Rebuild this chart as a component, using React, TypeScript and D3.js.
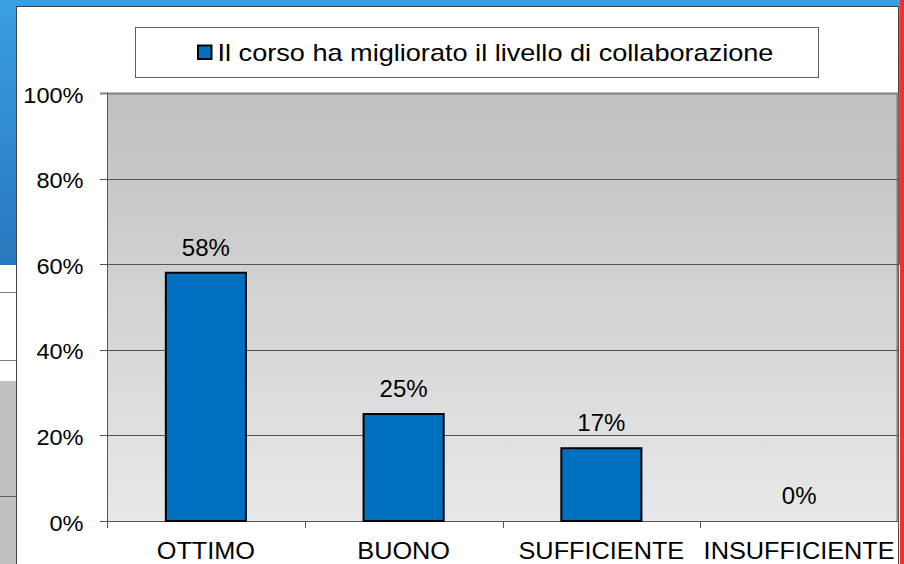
import React from "react";
import * as d3 from "d3";

const categories = ["OTTIMO", "BUONO", "SUFFICIENTE", "INSUFFICIENTE"];
const values = [0.58, 0.25, 0.17, 0];
const valueLabels = ["58%", "25%", "17%", "0%"];
const yTicks = [0, 0.2, 0.4, 0.6, 0.8, 1];
const seriesName = "Il corso ha migliorato il livello di collaborazione";

const W = 904;
const H = 564;
const plot = { left: 107, right: 898, top: 93, bottom: 521 };
const font = "'Liberation Sans', Arial, sans-serif";

function T({ x, y, size, sx = 1, anchor = "start", children }: any) {
  return (
    <text
      transform={`translate(${x},${y}) scale(${sx},1)`}
      textAnchor={anchor}
      fontFamily={font}
      fontSize={size}
      fill="#000"
    >
      {children}
    </text>
  );
}

export default function App() {
  const x = d3.scaleBand<string>().domain(categories).range([plot.left, plot.right]).padding(0);
  const y = d3.scaleLinear().domain([0, 1]).range([plot.bottom, plot.top]);
  const bw = x.bandwidth() * 0.405;
  const fmt = d3.format(".0%");

  return (
    <svg width={W} height={H} style={{ position: "fixed", left: 0, top: 0 }}>
      <defs>
        <linearGradient id="bgBlue" x1="0" y1="0" x2="0" y2="1">
          <stop offset="0" stopColor="#3a9fe0" />
          <stop offset="1" stopColor="#2878bd" />
        </linearGradient>
        <linearGradient id="plotBg" x1="0" y1="0" x2="0" y2="1">
          <stop offset="0" stopColor="#c0c0c0" />
          <stop offset="1" stopColor="#e8e8e8" />
        </linearGradient>
      </defs>
      {/* page background pieces */}
      <rect x={0} y={0} width={W} height={H} fill="#ffffff" />
      <rect x={0} y={0} width={900} height={265} fill="url(#bgBlue)" />
      <rect x={0} y={265} width={17} height={116} fill="#ffffff" />
      <line x1={0} x2={17} y1={292.5} y2={292.5} stroke="#808080" />
      <line x1={0} x2={17} y1={360.5} y2={360.5} stroke="#808080" />
      <rect x={0} y={381} width={17} height={H - 381} fill="#c0c0c0" />
      <line x1={0} x2={17} y1={496.5} y2={496.5} stroke="#606060" />
      <rect x={900} y={0} width={4} height={H} fill="#ff2a2a" />
      {/* chart panel */}
      <rect x={16.5} y={6.5} width={882} height={H} fill="#ffffff" stroke="#404040" strokeWidth={1} />
      {/* plot area */}
      <rect x={plot.left} y={plot.top} width={plot.right - plot.left} height={plot.bottom - plot.top} fill="url(#plotBg)" />
      <line x1={plot.right - 0.5} x2={plot.right - 0.5} y1={plot.top} y2={plot.bottom} stroke="#808080" strokeWidth={2} />
      {yTicks.map((t) => (
        <g key={t}>
          <line
            x1={plot.left - 7}
            x2={plot.right}
            y1={Math.round(y(t)) + 0.5}
            y2={Math.round(y(t)) + 0.5}
            stroke={t === 1 ? "#808080" : "#555555"}
            strokeWidth={t === 1 ? 2 : 1}
          />
          <T x={83.5} y={y(t) + 9.5} size={22} sx={1.07} anchor="end">
            {fmt(t)}
          </T>
        </g>
      ))}
      <line x1={plot.left + 0.5} x2={plot.left + 0.5} y1={plot.top} y2={plot.bottom + 7} stroke="#555555" />
      {[...categories.map((c) => x(c) as number), plot.right].map((b, i) => (
        <line key={i} x1={Math.round(b) + 0.5} x2={Math.round(b) + 0.5} y1={plot.bottom} y2={plot.bottom + 7} stroke="#555555" />
      ))}
      {categories.map((c, i) => {
        const cx = (x(c) as number) + x.bandwidth() / 2;
        return (
          <g key={c}>
            {values[i] > 0 && (
              <rect
                x={cx - bw / 2}
                y={y(values[i])}
                width={bw}
                height={y(0) - y(values[i])}
                fill="#0070c0"
                stroke="#000"
                strokeWidth={2}
              />
            )}
            <T x={cx} y={y(values[i]) - 17} size={24} anchor="middle">
              {valueLabels[i]}
            </T>
            <T x={cx} y={558.5} size={23} sx={1.1} anchor="middle">
              {c}
            </T>
          </g>
        );
      })}
      {/* legend */}
      <rect x={135.5} y={27.5} width={683} height={50} fill="#ffffff" stroke="#606060" />
      <rect x={198} y={45.5} width={13.5} height={13.5} fill="#0070c0" stroke="#000" strokeWidth={2} />
      <T x={217.5} y={60.5} size={24} sx={1.13}>
        {seriesName}
      </T>
    </svg>
  );
}
